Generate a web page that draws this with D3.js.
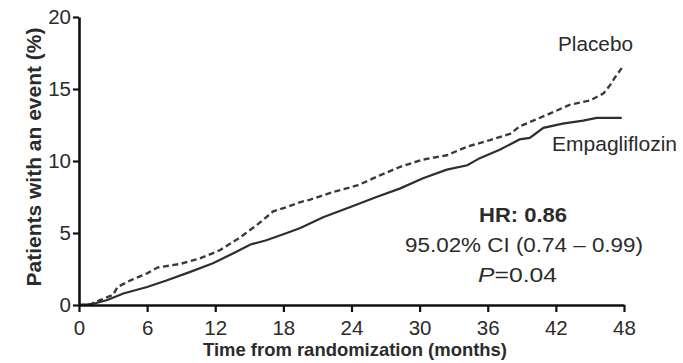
<!DOCTYPE html>
<html>
<head>
<meta charset="utf-8">
<script src="https://cdn.jsdelivr.net/npm/d3@7"></script>
<style>
  html, body { margin: 0; padding: 0; background: #fff; }
  svg { display: block; font-family: "Liberation Sans", Arial, sans-serif; }
</style>
</head>
<body>
<svg id="chart" width="683" height="363"></svg>
<script>
// Cumulative incidence (%) over time (months) for each arm
const placeboMonths = [0, 1.0, 1.9, 3.0, 3.4, 4.5, 6.0, 6.9, 8.9, 10.7, 12.4, 14.2, 15.9, 17.1, 18.3, 19.5, 20.3, 22.4, 24.5, 26.5, 28.3, 30.3, 32.4, 34.2, 36.2, 38.0, 38.8, 39.7, 41.5, 43.2, 45.0, 46.2, 46.8, 47.2, 47.8];
const placeboPct    = [0, 0.05, 0.35, 0.7, 1.25, 1.7, 2.2, 2.6, 2.85, 3.25, 3.8, 4.7, 5.7, 6.5, 6.8, 7.15, 7.3, 7.85, 8.3, 9.0, 9.6, 10.1, 10.4, 11.0, 11.45, 11.9, 12.4, 12.7, 13.3, 13.9, 14.2, 14.7, 15.3, 15.8, 16.45];

const empaMonths = [0, 1.2, 2.5, 3.9, 6.0, 7.7, 9.8, 11.8, 13.6, 15.1, 16.5, 18.3, 19.5, 21.5, 23.9, 26.2, 28.3, 30.3, 32.4, 34.2, 35.3, 37.1, 38.8, 39.7, 40.9, 42.6, 44.4, 45.6, 47.8];
const empaPct    = [0, 0.07, 0.35, 0.8, 1.25, 1.7, 2.3, 2.9, 3.6, 4.2, 4.5, 5.0, 5.35, 6.1, 6.8, 7.5, 8.1, 8.8, 9.4, 9.7, 10.2, 10.8, 11.5, 11.6, 12.3, 12.6, 12.8, 13.0, 13.0];

const xTicks = [0, 6, 12, 18, 24, 30, 36, 42, 48];
const yTicks = [0, 5, 10, 15, 20];

const seriesNames = ["Placebo", "Empagliflozin"];
const statLines = ["HR: 0.86", "95.02% CI (0.74 \u2013 0.99)", "=0.04"];

const svg = d3.select("#chart");
const ink = "#2b2b2b";
const fontSize = 20.5;

const x = d3.scaleLinear().domain([0, 48]).range([79, 624]);
const y = d3.scaleLinear().domain([0, 20]).range([305, 17]);

// Curves
const line = d3.line().x(d => x(d[0])).y(d => y(d[1]));
const placebo = d3.zip(placeboMonths, placeboPct);
const empa = d3.zip(empaMonths, empaPct);

svg.append("path").datum(placebo)
  .attr("d", line).attr("fill", "none")
  .attr("stroke", "#3a3a3a").attr("stroke-width", 2.4)
  .attr("stroke-dasharray", "6,3.5");

svg.append("path").datum(empa)
  .attr("d", line).attr("fill", "none")
  .attr("stroke", "#2e2e2e").attr("stroke-width", 2.2);

// Axes
const xAxis = svg.append("g").attr("transform", `translate(0,${y(0)})`)
  .call(d3.axisBottom(x).tickValues(xTicks).tickSize(7).tickPadding(8).tickSizeOuter(0));
const yAxis = svg.append("g").attr("transform", `translate(${x(0)},0)`)
  .call(d3.axisLeft(y).tickValues(yTicks).tickSize(6).tickPadding(2).tickSizeOuter(0));

[xAxis, yAxis].forEach(g => {
  g.select(".domain").attr("stroke", "#111").attr("stroke-width", 2.6);
  g.selectAll(".tick line").attr("stroke", "#111").attr("stroke-width", 2.2);
  g.selectAll(".tick text").attr("fill", ink)
    .style("font-family", "'Liberation Sans', Arial, sans-serif")
    .style("font-size", fontSize + "px");
});

// Axis titles
svg.append("text")
  .attr("x", 355).attr("y", 356)
  .attr("text-anchor", "middle")
  .attr("font-weight", "bold").attr("font-size", 19)
  .attr("textLength", 304).attr("lengthAdjust", "spacingAndGlyphs")
  .attr("fill", ink)
  .text("Time from randomization (months)");

svg.append("text")
  .attr("transform", "translate(41,157) rotate(-90)")
  .attr("text-anchor", "middle")
  .attr("font-weight", "bold").attr("font-size", 20)
  .attr("textLength", 259).attr("lengthAdjust", "spacingAndGlyphs")
  .attr("fill", ink)
  .text("Patients with an event (%)");

// Series labels
svg.append("text").attr("x", 558).attr("y", 51)
  .attr("font-size", fontSize).attr("fill", ink)
  .attr("textLength", 75).attr("lengthAdjust", "spacingAndGlyphs")
  .text(seriesNames[0]);
svg.append("text").attr("x", 552).attr("y", 151)
  .attr("font-size", fontSize).attr("fill", ink)
  .attr("textLength", 125).attr("lengthAdjust", "spacingAndGlyphs")
  .text(seriesNames[1]);

// Statistics block
svg.append("text").attr("x", 523).attr("y", 222)
  .attr("text-anchor", "middle").attr("font-weight", "bold")
  .attr("font-size", fontSize).attr("fill", ink)
  .attr("textLength", 88).attr("lengthAdjust", "spacingAndGlyphs")
  .text(statLines[0]);
svg.append("text").attr("x", 524).attr("y", 252)
  .attr("text-anchor", "middle")
  .attr("font-size", fontSize).attr("fill", ink)
  .attr("textLength", 238).attr("lengthAdjust", "spacingAndGlyphs")
  .text(statLines[1]);
const pLine = svg.append("text").attr("x", 478).attr("y", 282)
  .attr("font-size", fontSize).attr("fill", ink)
  .attr("textLength", 79).attr("lengthAdjust", "spacingAndGlyphs");
pLine.append("tspan").attr("font-style", "italic").text("P");
pLine.append("tspan").text(statLines[2]);
</script>
</body>
</html>
